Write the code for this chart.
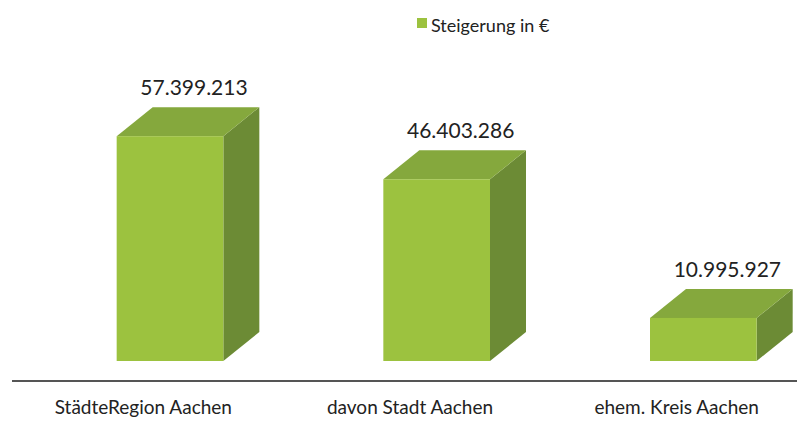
<!DOCTYPE html>
<html>
<head>
<meta charset="utf-8">
<script src="https://cdn.jsdelivr.net/npm/d3@7"></script>
<style>
  body { margin: 0; background: #fff; }
  svg { display: block; }
</style>
</head>
<body>
<div class="chart"></div>
<script>
// chart values
const categories = ['StädteRegion Aachen', 'davon Stadt Aachen', 'ehem. Kreis Aachen'];
const values = [57399213, 46403286, 10995927];
const seriesName = 'Steigerung in €';

const width = 797;
const height = 422;
const baseY = 361;
const depth = { dx: 36, dy: 29 };
const colors = { front: '#9cc23f', top: '#85a83d', side: '#6c8b35' };
const font = 'Lato, Calibri, "Liberation Sans", sans-serif';

const data = categories.map((c, i) => ({ label: c, value: values[i] }));

const svg = d3
  .select('.chart')
  .append('svg')
  .attr('width', width)
  .attr('height', height);

const x = d3
  .scaleBand()
  .domain(categories)
  .range([10, 810]);

const y = d3
  .scaleLinear()
  .domain([0, 60000000])
  .range([baseY, 126]);

const fmt = (v) => d3.format(',')(v).replace(/,/g, '.');

const barLeft = (d) => x(d.label) + x.bandwidth() * 0.4;
const barW = x.bandwidth() * 0.4;

const bars = svg.append('g').selectAll('g').data(data).enter().append('g');

// side face
bars
  .append('path')
  .attr('fill', colors.side)
  .attr('d', (d) => {
    const x1 = barLeft(d) + barW;
    const yt = y(d.value);
    return `M${x1},${yt}L${x1 + depth.dx},${yt - depth.dy}L${x1 + depth.dx},${baseY - depth.dy}L${x1},${baseY}Z`;
  });

// top face
bars
  .append('path')
  .attr('fill', colors.top)
  .attr('d', (d) => {
    const x0 = barLeft(d);
    const yt = y(d.value);
    return `M${x0},${yt}L${x0 + depth.dx},${yt - depth.dy}L${x0 + barW + depth.dx},${yt - depth.dy}L${x0 + barW},${yt}Z`;
  });

// front face
bars
  .append('rect')
  .attr('fill', colors.front)
  .attr('x', barLeft)
  .attr('y', (d) => y(d.value))
  .attr('width', barW)
  .attr('height', (d) => baseY - y(d.value));

// value labels
bars
  .append('text')
  .attr('x', (d) => barLeft(d) + barW / 2 + 24)
  .attr('y', (d) => y(d.value) - depth.dy - 12)
  .attr('text-anchor', 'middle')
  .attr('font-family', font)
  .attr('font-size', '21px')
  .attr('fill', '#222')
  .text((d) => fmt(d.value));

// axis line
svg
  .append('line')
  .attr('x1', 12)
  .attr('x2', width)
  .attr('y1', 381)
  .attr('y2', 381)
  .attr('stroke', '#555')
  .attr('stroke-width', 2);

// category labels
svg
  .append('g')
  .selectAll('text')
  .data(categories)
  .enter()
  .append('text')
  .attr('x', (d) => x(d) + x.bandwidth() / 2)
  .attr('y', 414)
  .attr('text-anchor', 'middle')
  .attr('font-family', font)
  .attr('font-size', '19px')
  .attr('fill', '#222')
  .text((d) => d);

// legend
const legend = svg.append('g').attr('transform', 'translate(417, 18)');
legend
  .append('rect')
  .attr('width', 10)
  .attr('height', 10)
  .attr('fill', colors.front);
legend
  .append('text')
  .attr('x', 14)
  .attr('y', 14)
  .attr('font-family', font)
  .attr('font-size', '18px')
  .attr('fill', '#222')
  .text(seriesName);
</script>
</body>
</html>
